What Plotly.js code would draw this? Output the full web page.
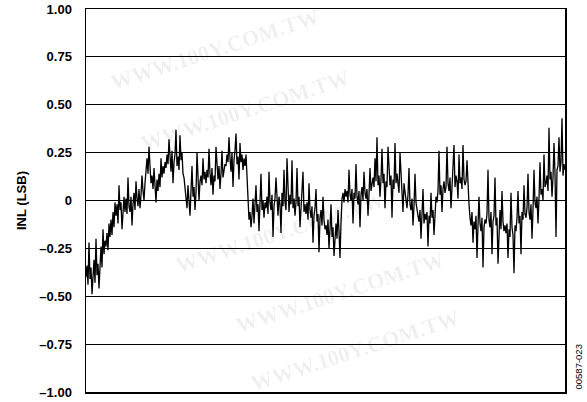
<!DOCTYPE html>
<html>
<head>
<meta charset="utf-8">
<script src="https://cdn.plot.ly/plotly-3.0.1.min.js"></script>
<style>html,body{margin:0;padding:0;background:#fff;}#chart{width:587px;height:402px;}</style>
</head>
<body>
<div id="chart"></div>
<script>
// INL (LSB), one sample per plotted column, left to right
const inlValues = [
  -0.40,-0.34,-0.44,-0.22,-0.41,-0.35,-0.49,-0.37,-0.31,-0.43,-0.20,-0.39,-0.33,-0.46,-0.30,-0.24,-0.35,-0.15,-0.28,-0.21,
  -0.24,-0.17,-0.26,-0.12,-0.19,-0.10,-0.18,-0.06,-0.14,-0.01,-0.08,-0.02,-0.12, 0.08,-0.05,-0.01,-0.15,-0.04, 0.02,-0.06,
   0.01,-0.07, 0.12,-0.03,-0.06, 0.02,-0.13,-0.02, 0.04,-0.05, 0.10, 0.01,-0.03, 0.06,-0.04, 0.03, 0.13, 0.05, 0.00, 0.09,
   0.15, 0.22, 0.14, 0.28, 0.18, 0.09, 0.13, 0.06, 0.17, 0.08,-0.01, 0.11, 0.05, 0.14, 0.07, 0.22, 0.12, 0.18, 0.14, 0.20,
   0.17, 0.24, 0.19, 0.32, 0.22, 0.15, 0.26, 0.09, 0.20, 0.24, 0.37, 0.18, 0.23, 0.16, 0.34, 0.21, 0.25, 0.14, 0.12, 0.06,
   0.03,-0.04, 0.08, 0.01,-0.08, 0.05, 0.18, 0.02, 0.07,-0.05, 0.04, 0.25, 0.06, 0.00, 0.10, 0.13, 0.08, 0.22, 0.11, 0.15,
   0.09, 0.16, 0.12, 0.27, 0.14, 0.08, 0.17, 0.03, 0.13, 0.10, 0.28, 0.15, 0.11, 0.18, 0.06, 0.14, 0.26, 0.12, 0.16, 0.19,
   0.18, 0.24, 0.20, 0.33, 0.22, 0.15, 0.25, 0.07, 0.21, 0.26, 0.35, 0.19, 0.23, 0.11, 0.30, 0.20, 0.24, 0.16, 0.22, 0.18,
   0.24, 0.10,-0.02,-0.10,-0.06,-0.14,-0.08, 0.01,-0.12,-0.04, 0.08,-0.06,-0.02,-0.16,-0.03, 0.14,-0.05, 0.00,-0.09,-0.01,
  -0.04, 0.02,-0.07, 0.15,-0.01,-0.05, 0.03,-0.19,-0.03, 0.01, 0.12,-0.04,-0.08, 0.02,-0.02,-0.17, 0.04,-0.03, 0.16,-0.01,
  -0.05, 0.22, 0.00,-0.06, 0.03,-0.02, 0.21,-0.04, 0.01,-0.08,-0.01, 0.17,-0.03, 0.02,-0.14,-0.05, 0.00, 0.15,-0.06,-0.02,
  -0.07,-0.01,-0.10, 0.09,-0.05,-0.09,-0.03,-0.22,-0.08,-0.04, 0.06,-0.11,-0.07,-0.27,-0.09,-0.05,-0.13, 0.02,-0.10,-0.15,
  -0.13,-0.18,-0.10,-0.25,-0.15,-0.02,-0.19,-0.14,-0.29,-0.17,-0.12,-0.20,-0.05,-0.16,-0.30,-0.12, 0.01, 0.04,-0.01, 0.06,
   0.02, 0.05,-0.01, 0.16, 0.03, 0.00, 0.06,-0.12, 0.04, 0.01, 0.19, 0.02,-0.02, 0.05,-0.14, 0.03, 0.07, 0.00, 0.15, 0.04,
   0.01, 0.06,-0.08, 0.03, 0.17, 0.05, 0.09, 0.12, 0.07, 0.22, 0.10, 0.33, 0.08, 0.13, 0.02, 0.11, 0.27, 0.09, 0.14,-0.04,
   0.10, 0.07, 0.28, 0.12, 0.08, 0.13,-0.09, 0.11, 0.06, 0.30, 0.09, 0.14, 0.10, 0.04, 0.25, 0.12, 0.08,-0.06, 0.09, 0.05,
   0.00,-0.04, 0.03, 0.17,-0.02,-0.05, 0.01,-0.13,-0.03, 0.14,-0.01,-0.06,-0.08,-0.11,-0.05,-0.20,-0.09, 0.06,-0.12,-0.07,
  -0.10,-0.06,-0.24,-0.08,-0.12, 0.04,-0.09,-0.05,-0.18,-0.03, 0.02,-0.01, 0.05, 0.26, 0.03, 0.08,-0.06, 0.06, 0.10, 0.04,
   0.07, 0.28, 0.09, 0.05, 0.12,-0.04, 0.08, 0.11, 0.29, 0.07, 0.13, 0.10, 0.01, 0.24, 0.09, 0.12, 0.06, 0.29, 0.11, 0.08,
   0.10, 0.21, 0.06,-0.02,-0.09,-0.13,-0.06,-0.22,-0.11,-0.15,-0.08,-0.30,-0.13, 0.02,-0.12,-0.16,-0.09,-0.35,-0.14,-0.10,
  -0.12,-0.07, 0.16,-0.10,-0.14,-0.06,-0.28,-0.11,-0.08, 0.12,-0.13,-0.09,-0.33,-0.12,-0.05,-0.15, 0.05,-0.11,-0.16,-0.13,
  -0.17,-0.12,-0.30,-0.15,-0.19, 0.04,-0.14,-0.18,-0.38,-0.13,-0.16,-0.09, 0.05,-0.12,-0.08,-0.28,-0.06,-0.10, 0.08,-0.07,
  -0.09,-0.04, 0.14,-0.06,-0.10,-0.02,-0.20,-0.05, 0.16,-0.01,-0.04, 0.02,-0.12, 0.01, 0.20, 0.03, 0.06, 0.00, 0.24, 0.07,
   0.09, 0.13, 0.05, 0.38, 0.11, 0.15, 0.02, 0.12, 0.30, 0.14,-0.19, 0.16, 0.18, 0.33, 0.15, 0.20, 0.43, 0.13, 0.19, 0.16
];
const codeIndex = inlValues.map((_, i) => i);
const yTickVals = [1, 0.75, 0.5, 0.25, 0, -0.25, -0.5, -0.75, -1];
const yTickText = ["1.00", "0.75", "0.50", "0.25", "0", "\u20130.25", "\u20130.50", "\u20130.75", "\u20131.00"];
const watermarkText = "WWW.100Y.COM.TW";
const watermarkSpots = [[215,50],[245,110],[280,232],[340,292],[355,350]];

const font = "Liberation Sans, Arial, Helvetica, sans-serif";

const trace = {
  x: codeIndex,
  y: inlValues,
  type: "scatter",
  mode: "lines",
  line: {color: "#000", width: 1.3},
  hoverinfo: "skip"
};

const annotations = watermarkSpots.map(p => ({
  text: watermarkText, xref: "paper", yref: "paper",
  x: (p[0] - 86) / 479, y: (392 - p[1]) / 383,
  xanchor: "center", yanchor: "middle",
  showarrow: false, textangle: -18,
  font: {family: "Liberation Serif, serif", size: 22, color: "rgba(0,0,0,0.07)", weight: "bold"}
}));
annotations.push({
  text: "00587-023", xref: "paper", yref: "paper",
  x: (578 - 86) / 479, y: 0, yanchor: "bottom", xanchor: "center",
  showarrow: false, textangle: -90,
  font: {family: font, size: 9.5, color: "#000"}
});

const layout = {
  width: 587, height: 402,
  margin: {l: 86, r: 22, t: 9, b: 10, pad: 0},
  paper_bgcolor: "#fff", plot_bgcolor: "#fff",
  showlegend: false,
  font: {family: font, color: "#000"},
  xaxis: {
    range: [0, codeIndex.length - 1],
    showticklabels: false, ticks: "", showgrid: false, zeroline: false,
    showline: true, mirror: true, linecolor: "#000", linewidth: 1.5
  },
  yaxis: {
    range: [-1, 1],
    tickvals: yTickVals, ticktext: yTickText,
    ticks: "", ticklabelstandoff: 10,
    tickfont: {family: font, size: 13, color: "#000", weight: "bold"},
    showgrid: true, gridcolor: "#000", gridwidth: 1,
    zeroline: true, zerolinecolor: "#000", zerolinewidth: 1,
    showline: true, mirror: true, linecolor: "#000", linewidth: 1.5,
    title: {text: "INL (LSB)", standoff: 10, font: {family: font, size: 13, color: "#000", weight: "bold"}}
  },
  annotations: annotations
};

Plotly.newPlot("chart", [trace], layout, {staticPlot: true, displayModeBar: false});
</script>
</body>
</html>
